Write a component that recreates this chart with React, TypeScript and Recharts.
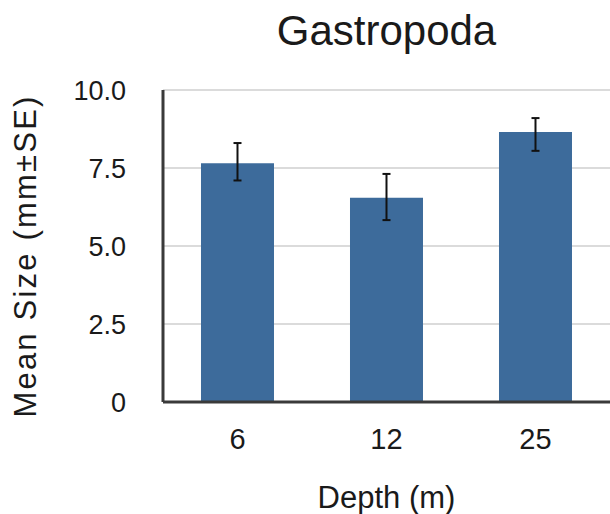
import { BarChart, Bar, XAxis, YAxis, CartesianGrid, ErrorBar } from "recharts";

const depths = ["6", "12", "25"];
const meanSize = [7.65, 6.55, 8.65];
const seLow = [0.55, 0.72, 0.6];
const seHigh = [0.65, 0.76, 0.45];
const yTicks = [0, 2.5, 5, 7.5, 10];

const data = depths.map((d, i) => ({
  depth: d,
  mean: meanSize[i],
  se: [seLow[i], seHigh[i]],
}));

const FONT = "'Liberation Sans', Arial, sans-serif";
const TEXT = "#1a1a1a";
const BAR = "#3d6b9b";

function fmtTick(v: number) {
  return v === 0 ? "0" : v.toFixed(1);
}

function YLabel({ viewBox }: any) {
  const cx = viewBox.x + 36;
  const cy = viewBox.y + viewBox.height / 2 + 10;
  return (
    <text
      x={cx}
      y={cy}
      transform={`rotate(-90 ${cx} ${cy})`}
      textAnchor="middle"
      fontFamily={FONT}
      fontSize={31}
      letterSpacing={2.2}
      fill={TEXT}
    >
      Mean Size (mm±SE)
    </text>
  );
}

function XLabel({ viewBox }: any) {
  const cx = viewBox.x + viewBox.width / 2;
  return (
    <text
      x={cx}
      y={viewBox.y + 106}
      textAnchor="middle"
      fontFamily={FONT}
      fontSize={31}
      fill={TEXT}
    >
      Depth (m)
    </text>
  );
}

export default function App() {
  return (
    <div style={{ position: "absolute", left: 0, top: 0, width: 610, height: 514, background: "#fff" }}>
      <div
        style={{
          position: "absolute",
          left: 163,
          width: 447,
          top: 7,
          textAlign: "center",
          fontFamily: FONT,
          fontSize: 42,
          lineHeight: "48px",
          color: TEXT,
        }}
      >
        Gastropoda
      </div>
      <BarChart
        width={610}
        height={514}
        data={data}
        margin={{ top: 90, right: 0, bottom: 0, left: 0 }}
        barCategoryGap="25.5%"
      >
        <CartesianGrid vertical={false} stroke="#cfcfcf" strokeWidth={1.5} />
        <XAxis
          dataKey="depth"
          height={112}
          axisLine={{ stroke: "#3a3a3a", strokeWidth: 3 }}
          tickLine={false}
          tickSize={0}
          tickMargin={26}
          tick={{ fontFamily: FONT, fontSize: 29, fill: TEXT }}
          label={<XLabel />}
        />
        <YAxis
          width={163}
          domain={[0, 10]}
          ticks={yTicks}
          interval={0}
          tickFormatter={fmtTick}
          axisLine={{ stroke: "#3a3a3a", strokeWidth: 3 }}
          tickLine={false}
          tickSize={0}
          tickMargin={37}
          tick={{ fontFamily: FONT, fontSize: 27, fill: TEXT }}
          label={<YLabel />}
        />
        <Bar dataKey="mean" fill={BAR} isAnimationActive={false}>
          <ErrorBar dataKey="se" width={4} stroke="#111" strokeWidth={2} direction="y" />
        </Bar>
      </BarChart>
    </div>
  );
}
